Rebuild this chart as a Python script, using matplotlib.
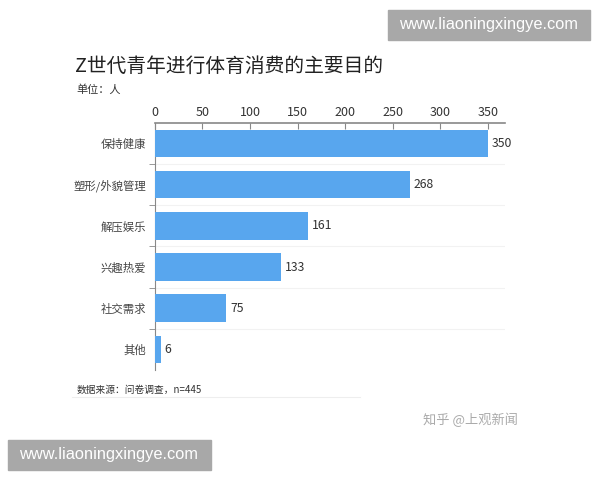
import matplotlib
matplotlib.use("Agg")
import matplotlib.pyplot as plt
from matplotlib.patches import Rectangle

plt.rcParams['font.family'] = ['Noto Sans CJK SC', 'DejaVu Sans']

categories = ["保持健康", "塑形/外貌管理", "解压娱乐", "兴趣热爱", "社交需求", "其他"]
values = [350, 268, 161, 133, 75, 6]
xticks = [0, 50, 100, 150, 200, 250, 300, 350]

title = "Z世代青年进行体育消费的主要目的"
unit = "单位：人"
source = "数据来源：问卷调查，n=445"
watermark = "www.liaoningxingye.com"
credit = "知乎 @上观新闻"

fig = plt.figure(figsize=(6, 4.8), dpi=100)
fig.patch.set_facecolor("white")
ax = fig.add_axes([0.258, 0.229, 0.584, 0.515])

ypos = list(range(len(categories)))
ax.barh(ypos, values, height=0.67, color="#58A6EE", zorder=3)
ax.set_ylim(len(categories) - 0.5, -0.5)
ax.set_xlim(0, 368)
for y, v in zip(ypos, values):
    ax.text(v + 4, y, str(v), va="center", ha="left", fontsize=8.8, color="#333333")

ax.xaxis.tick_top()
ax.set_xticks(xticks)
ax.set_xticklabels([str(t) for t in xticks], fontsize=9, color="#333333")
ax.tick_params(axis="x", direction="in", length=4, color="#888888", pad=3)
ax.set_yticks(ypos)
ax.set_yticklabels(categories, fontsize=8.2, color="#444444")
ax.tick_params(axis="y", length=0, pad=6)
ax.set_yticks([i + 0.5 for i in range(len(categories) - 1)], minor=True)
ax.tick_params(axis="y", which="minor", length=4, color="#888888", direction="out")
ax.grid(axis="y", which="minor", color="#f2f2f2", linewidth=0.8, zorder=0)

for s in ["right", "bottom"]:
    ax.spines[s].set_visible(False)
ax.spines["top"].set_color("#888888")
ax.spines["left"].set_color("#888888")
ax.spines["top"].set_linewidth(1.2)

fig.text(0.125, 0.862, title, fontsize=14.2, color="#222222", va="center", ha="left")
fig.text(0.127, 0.813, unit, fontsize=8, color="#333333", va="center", ha="left")
fig.text(0.128, 0.188, source, fontsize=7, color="#333333", va="center", ha="left")
fig.add_artist(plt.Line2D([0.12, 0.60], [0.173, 0.173], color="#eeeeee", linewidth=0.8))
fig.text(0.705, 0.125, credit, fontsize=9.5, color="#aaaaaa", va="center", ha="left")

# watermarks
fig.add_artist(Rectangle((388 / 600, 1 - 40 / 480), 202 / 600, 30 / 480,
                         transform=fig.transFigure, color="#a8a8a8", zorder=5))
fig.text(489 / 600, 1 - 25 / 480, watermark, fontsize=11.8, color="white",
         ha="center", va="center", family=["Liberation Sans", "DejaVu Sans"], zorder=6)
fig.add_artist(Rectangle((8 / 600, 1 - 470 / 480), 203 / 600, 30 / 480,
                         transform=fig.transFigure, color="#a8a8a8", zorder=5))
fig.text(109 / 600, 1 - 455 / 480, watermark, fontsize=11.8, color="white",
         ha="center", va="center", family=["Liberation Sans", "DejaVu Sans"], zorder=6)

fig.savefig("out.png", dpi=100, facecolor="white")
